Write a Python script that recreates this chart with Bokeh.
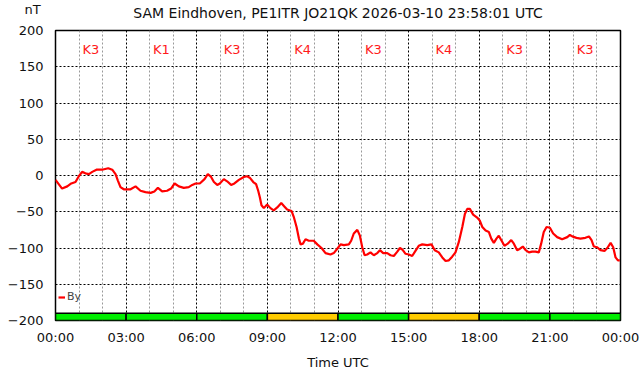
from bokeh.plotting import figure
from bokeh.models import Range1d, FixedTicker, Label, Legend, LegendItem, ColumnDataSource
from bokeh.core.properties import value
from bokeh.embed import file_html
from bokeh.resources import INLINE

# ---- data ----
hours = [0.0, 0.28, 0.5, 0.67, 0.85, 0.99, 1.13, 1.27, 1.42, 1.56, 1.74, 1.98, 2.24, 2.41, 2.55, 2.65,
         2.76, 2.9, 3.19, 3.4, 3.61, 3.82, 4.04, 4.2, 4.35, 4.53, 4.74, 4.91, 5.06, 5.24, 5.45, 5.66,
         5.81, 5.95, 6.13, 6.33, 6.47, 6.61, 6.73, 6.87, 6.98, 7.15, 7.29, 7.46, 7.6, 7.79, 8.0, 8.14,
         8.25, 8.4, 8.52, 8.61, 8.68, 8.75, 8.85, 8.99, 9.13, 9.27, 9.42, 9.59, 9.73, 9.84, 10.03, 10.12,
         10.24, 10.34, 10.41, 10.51, 10.62, 10.76, 10.97, 11.12, 11.3, 11.47, 11.68, 11.82, 11.97, 12.11,
         12.25, 12.46, 12.56, 12.67, 12.82, 12.93, 13.03, 13.13, 13.24, 13.38, 13.52, 13.67, 13.78, 13.92,
         14.09, 14.23, 14.37, 14.52, 14.63, 14.73, 14.87, 15.01, 15.15, 15.29, 15.43, 15.58, 15.79, 15.97,
         16.11, 16.28, 16.43, 16.57, 16.71, 16.85, 16.99, 17.13, 17.28, 17.39, 17.49, 17.6, 17.74, 17.91,
         18.02, 18.13, 18.27, 18.41, 18.51, 18.62, 18.73, 18.83, 18.95, 19.07, 19.21, 19.36, 19.47, 19.61,
         19.73, 19.85, 19.97, 20.11, 20.25, 20.39, 20.53, 20.63, 20.74, 20.86, 21.0, 21.14, 21.31, 21.52,
         21.74, 21.85, 21.95, 22.13, 22.3, 22.51, 22.66, 22.77, 22.87, 23.01, 23.15, 23.32, 23.44, 23.58,
         23.69, 23.79, 23.89, 23.97]
by_nt = [-6, -18, -15, -11, -9, -1, 5, 3, 2, 5, 8, 8, 10, 8, 2, -7,
         -16, -19, -19, -15, -21, -23, -24, -22, -17, -22, -21, -18, -11, -15, -17, -16,
         -13, -11, -11, -5, 2, -2, -9, -13, -11, -5, -8, -13, -11, -6, -2, -1,
         -3, -9, -12, -21, -30, -41, -45, -40, -45, -48, -44, -38, -43, -47, -49, -57,
         -71, -87, -95, -94, -88, -90, -90, -95, -100, -107, -109, -107, -101, -95,
         -96, -95, -90, -80, -75, -83, -99, -110, -109, -106, -110, -107, -103, -107,
         -107, -110, -111, -105, -100, -102, -108, -109, -111, -104, -97, -95, -96, -95,
         -103, -106, -113, -118, -117, -112, -106, -92, -71, -53, -46, -46, -54, -58,
         -62, -71, -76, -78, -87, -93, -87, -83, -90, -97, -94, -89, -94, -103,
         -101, -98, -103, -106, -105, -105, -106, -94, -78, -71, -72, -80, -85, -88,
         -85, -82, -84, -86, -87, -86, -84, -89, -98, -99, -103, -104, -100, -93,
         -99, -113, -117, -117]

k_start = [0, 3, 6, 9, 12, 15, 18, 21]
k_labels = ["K3", "K1", "K3", "K4", "K3", "K4", "K3", "K3"]
k_colors = ["#00ee00", "#00ee00", "#00ee00", "#ffcc00", "#00ee00", "#ffcc00", "#00ee00", "#00ee00"]

x_ticks = [0, 3, 6, 9, 12, 15, 18, 21, 24]
x_tick_labels = ["00:00", "03:00", "06:00", "09:00", "12:00", "15:00", "18:00", "21:00", "00:00"]
x_minor = [h for h in range(25) if h % 3 != 0]
y_ticks = [-200, -150, -100, -50, 0, 50, 100, 150, 200]

title_text = "SAM Eindhoven, PE1ITR JO21QK 2026-03-10 23:58:01 UTC"
FONT = "DejaVu Sans"

FW, FH = 565, 290
p = figure(frame_width=FW, frame_height=FH, output_backend="svg", toolbar_location=None,
           title_location=None,
           x_range=Range1d(0, 24), y_range=Range1d(-200, 200),
           min_border_left=55, min_border_right=22, min_border_top=30, min_border_bottom=56)
p.background_fill_color = "white"
p.border_fill_color = "white"
p.outline_line_color = "black"
p.outline_line_width = 1.5

# axes
p.xaxis.ticker = FixedTicker(ticks=x_ticks, minor_ticks=x_minor)
p.xaxis.major_label_overrides = {t: l for t, l in zip(x_ticks, x_tick_labels)}
p.yaxis.ticker = FixedTicker(ticks=y_ticks)
for ax in (p.xaxis[0], p.yaxis[0]):
    ax.axis_line_color = None
    ax.major_tick_line_color = None
    ax.minor_tick_line_color = None
    ax.major_label_text_font = FONT
    ax.major_label_text_font_size = "13px"
    ax.major_label_text_color = "#111111"
p.xaxis.major_label_standoff = 3
p.yaxis.major_label_standoff = 6
p.xaxis.axis_label = "Time UTC"
p.xaxis.axis_label_text_font = FONT
p.xaxis.axis_label_text_font_size = "13px"
p.xaxis.axis_label_text_font_style = "normal"
p.xaxis.axis_label_text_color = "#111111"
p.xaxis.axis_label_standoff = 7

# grids
p.xgrid.grid_line_color = "black"
p.xgrid.grid_line_dash = "2 2"
p.xgrid.grid_line_width = 1
p.xgrid.minor_grid_line_color = "#999999"
p.xgrid.minor_grid_line_dash = "2 2"
p.ygrid.grid_line_color = "black"
p.ygrid.grid_line_dash = "2 2"

# K index bar
ksrc = ColumnDataSource(dict(left=k_start, right=[s + 3 for s in k_start], color=k_colors,
                             label=k_labels, mid=[s + 1.5 for s in k_start]))
p.quad(left="left", right="right", bottom=-200, top=-190, fill_color="color",
       line_color="black", line_width=1.5, source=ksrc)
p.text(x="mid", y=174, text="label", source=ksrc, text_color="#ff1a1a",
       text_font=value(FONT), text_font_size="13px", text_align="center", text_baseline="middle")

# By line
r = p.line(hours, by_nt, line_color="#ff0000", line_width=2.2)

legend = Legend(items=[LegendItem(label="By", renderers=[r])], location=(3, 17),
                background_fill_alpha=0, border_line_color=None, padding=0, margin=0,
                glyph_width=7, glyph_height=12, label_standoff=2,
                label_text_font=FONT, label_text_font_size="11px", label_height=12)
p.add_layout(legend, "center")

# title in the top side panel (screen units relative to that panel)
p.add_layout(Label(x=282.5, y=18, x_units="screen", y_units="screen", text=title_text,
                   text_font=FONT, text_font_size="14px", text_align="center",
                   text_baseline="middle", text_color="#111111"), "above")
# unit label, held in the (narrow) right side panel, drawn at the top-left of the chart
p.add_layout(Label(x=26 - 55 - FW + 6, y=FH + 15 + 6, x_units="screen", y_units="screen", text="nT",
                   text_font=FONT, text_font_size="13px", text_align="center",
                   text_baseline="middle", text_color="#111111"), "right")

open("out.html", "w").write(file_html(p, INLINE))
